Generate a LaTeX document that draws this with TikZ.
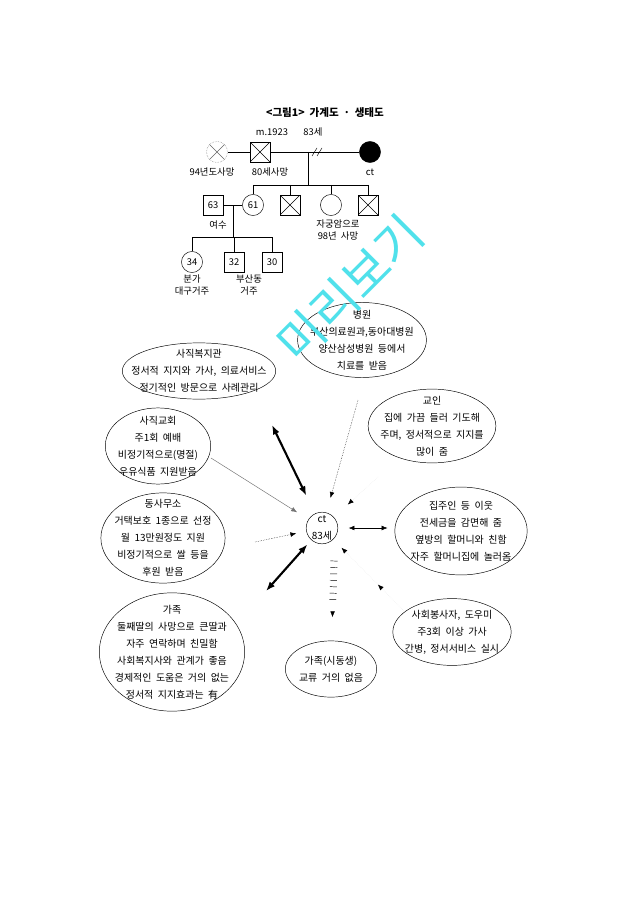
\documentclass[tikz,border=0pt]{standalone}
\usepackage{fontspec}
\setmainfont[WordSpace=2]{Noto Sans CJK KR}
\usetikzlibrary{shapes.geometric,arrows.meta,decorations.pathreplacing,decorations.markings}
\definecolor{wmcyan}{RGB}{80,225,235}
\newcommand{\ecofont}{\fontsize{8.5}{14.5}\selectfont}
\newcommand{\genofont}{\fontsize{8}{9.5}\selectfont}
\tikzset{>={Latex[length=5pt,width=4pt]},
  male/.style={draw, rectangle, minimum size=17pt, inner sep=0pt, font=\genofont},
  female/.style={draw, circle, minimum size=18pt, inner sep=0pt, font=\genofont},
  dead/.style={path picture={\draw[#1] (path picture bounding box.north west) -- (path picture bounding box.south east) (path picture bounding box.north east) -- (path picture bounding box.south west);}},
  dead/.default=black,
  geno/.style={font=\genofont, inner sep=1pt, align=center},
  ecotext/.style={font=\ecofont, align=center, inner sep=0pt},
  eco/.style={draw, ellipse, inner sep=0pt},
  strong/.style={{Latex[length=8pt,width=6pt]}-{Latex[length=8pt,width=6pt]}, line width=1.8pt},
  normal/.style={->, draw=black!55},
  weak/.style={->, densely dotted},
  faint/.style={-{Latex[length=5pt,width=4pt,color=black]}, draw=black!8, densely dotted},
  ticked/.style={draw, decorate, decoration={ticks, segment length=5.5pt, amplitude=3pt, post length=30pt, post=moveto}}
}
\begin{document}
\begin{tikzpicture}[x=0.03cm,y=-0.03cm]
  \path[fill=white] (0,0) rectangle (640,905);
  % genogram
  \node[font=\bfseries\fontsize{9}{10}\selectfont] (title) at (325,113) {<그림1> 가계도 · 생태도};
  \node[geno] (marr) at (272,132) {m.1923};
  \node[geno] (age) at (313,132) {83세};
  \node[female, draw=black!60, densely dotted, dead={black!60, solid}] (gm) at (217,152) {};
  \node[male, dead] (gf) at (260,152) {};
  \node[female, fill=black] (cl) at (370,152) {};
  \node[geno] (gml) at (212,172) {94년도사망};
  \node[geno] (gfl) at (270,172) {80세사망};
  \node[geno] (cll) at (370,172) {ct};
  \draw (gm) -- (gf);
  \draw (gf) -- (cl);
  \coordinate (div) at (317,152);
  \draw ([shift={(-5,4)}]div) -- ++(5,-8);
  \draw ([shift={(0,4)}]div) -- ++(5,-8);
  \coordinate (mid) at (308,152);
  \coordinate (sib) at (308,185);
  \node[male] (s63) at (213,205) {63};
  \node[female] (c61) at (253,205) {61};
  \node[male, dead] (s2) at (290,205) {};
  \node[female] (c3) at (331,205) {};
  \node[male, dead] (s4) at (368,205) {};
  \draw (mid) -- (sib);
  \draw (c61 |- sib) -- (s4 |- sib);
  \foreach \n in {c61,s2,c3,s4}
    \draw (\n |- sib) -- (\n);
  \node[geno] (yeosu) at (218,225) {여수};
  \node[geno] (c3l) at (338,230) {자궁암으로\\98년 사망};
  \draw (s63) -- (c61);
  \coordinate (m2) at (233,205);
  \coordinate (kids) at (233,237);
  \node[female] (c34) at (192,262) {34};
  \node[male] (s32) at (234,262) {32};
  \node[male] (s30) at (272,262) {30};
  \draw (m2) -- (kids);
  \draw (c34 |- kids) -- (s30 |- kids);
  \foreach \n in {c34,s32,s30}
    \draw (\n |- kids) -- (\n);
  \node[geno] (c34l) at (192,285) {분가\\대구거주};
  \node[geno] (s32l) at (249,285) {부산동\\거주};
  % ecomap
  \node[eco, minimum width=131pt, minimum height=48pt, label={[ecotext]center:{사직복지관\\정서적 지지와 가사, 의료서비스\\정기적인 방문으로 사례관리}}] (bokji) at (199,371) {};
  \node[eco, minimum width=110pt, minimum height=64pt, label={[ecotext]center:{병원\\부산의료원과,동아대병원\\양산삼성병원 등에서\\치료를 받음}}] (hosp) at (362,340) {};
  \node[eco, minimum width=90pt, minimum height=65pt, label={[ecotext]center:{사직교회\\주1회 예배\\비정기적으로(명절)\\우유식품 지원받음}}] (church) at (158,446) {};
  \node[eco, minimum width=109pt, minimum height=63pt, label={[ecotext]center:{교인\\집에 가끔 들러 기도해\\주며, 정서적으로 지지를\\많이 줌}}] (gyoin) at (432,426) {};
  \node[eco, minimum width=106pt, minimum height=77pt, label={[ecotext]center:{동사무소\\거택보호 1종으로 선정\\월 13만원정도 지원\\비정기적으로 쌀 등을\\후원 받음}}] (dong) at (163,538) {};
  \node[draw, circle, minimum size=27pt, inner sep=0pt, label={[ecotext]center:{ct\\83세}}] (ct) at (322,528) {};
  \node[eco, minimum width=113pt, minimum height=75pt, label={[ecotext]center:{집주인 등 이웃\\전세금을 감면해 줌\\옆방의 할머니와 친함\\자주 할머니집에 놀러옴}}] (nb) at (461,531) {};
  \node[eco, minimum width=101pt, minimum height=57pt, label={[ecotext]center:{사회봉사자, 도우미\\주3회 이상 가사\\간병, 정서서비스 실시}}] (bong) at (452,632) {};
  \node[eco, minimum width=124pt, minimum height=101pt, label={[ecotext]center:{가족\\둘째딸의 사망으로 큰딸과\\자주 연락하며 친밀함\\사회복지사와 관계가 좋음\\경제적인 도움은 거의 없는\\정서적 지지효과는 有}}] (family) at (172,652) {};
  \node[eco, minimum width=78pt, minimum height=48pt, label={[ecotext]center:{가족(시동생)\\교류 거의 없음}}] (kin) at (331,669) {};
  \coordinate (p1) at (272,425);
  \coordinate (p2) at (358,400);
  \coordinate (p3) at (211,458);
  \coordinate (p4) at (255,542);
  \coordinate (p5) at (378,477);
  \coordinate (p7) at (405,612);
  \coordinate (p8) at (266,591);
  \coordinate (k1) at (334,561);
  \draw[strong, shorten >=17pt] (p1) -- (ct);
  \draw[weak, shorten >=13pt] (p2) -- (ct);
  \draw[normal, shorten >=11.5pt] (p3) -- (ct);
  \draw[weak, shorten >=8.7pt] (p4) -- (ct);
  \draw[faint, shorten >=16pt] (p5) -- (ct);
  \draw[<->, shorten <=9pt, shorten >=6pt] (ct) -- (ct -| nb.west);
  \draw[faint, shorten >=10pt, postaction={decorate, decoration={markings, mark=at position 33pt with {\arrow{Latex[length=5pt,width=4pt,color=black]}}}}] (p7) -- (ct);
  \draw[strong, shorten >=5pt] (p8) -- (ct);
  \path[postaction={ticked}, postaction={decorate, decoration={markings, mark=at position 48pt with {\arrow{Latex[length=5pt,width=4pt]}}}}] (k1) -- (kin);
  \node[rotate=45, text=wmcyan, font=\fontsize{42}{42}\selectfont] (wm) at (350,288) {미리보기};
\end{tikzpicture}
\end{document}
